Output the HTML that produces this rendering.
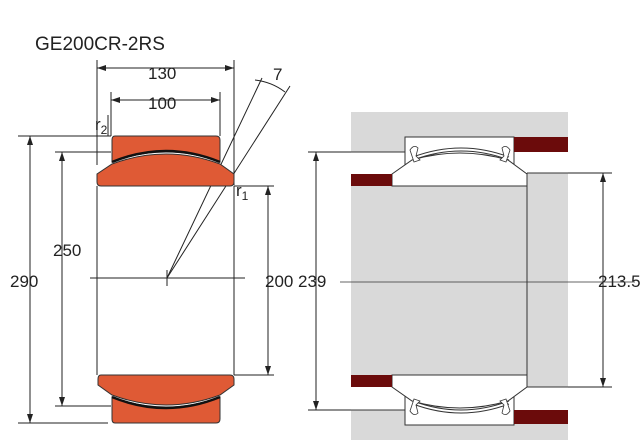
<!DOCTYPE html>
<html><head><style>body{margin:0;background:#fff}svg{display:block}</style></head><body>
<svg width="640" height="440" xmlns="http://www.w3.org/2000/svg" font-family="Liberation Sans, sans-serif">
<rect width="640" height="440" fill="#fff"/>
<text x="35" y="50" font-size="19" fill="#222">GE200CR-2RS</text>
<g stroke="#222" stroke-width="1" fill="none">
<line x1="97" y1="60" x2="97" y2="165"/><line x1="234" y1="60" x2="234" y2="185"/>
<line x1="111" y1="92" x2="111" y2="136"/><line x1="220" y1="92" x2="220" y2="136"/>
<line x1="97" y1="68" x2="234" y2="68"/><line x1="111" y1="100" x2="220" y2="100"/>
<line x1="97" y1="186" x2="97" y2="375"/><line x1="234" y1="186" x2="234" y2="375"/>
<line x1="18" y1="136" x2="111" y2="136"/><line x1="18" y1="423" x2="108" y2="423"/>
<line x1="30" y1="136" x2="30" y2="423"/>
<line x1="55" y1="152" x2="111" y2="152"/><line x1="55" y1="406" x2="111" y2="406"/>
<line x1="62" y1="152" x2="62" y2="406"/>
<line x1="234" y1="186" x2="274" y2="186"/><line x1="234" y1="375" x2="274" y2="375"/>
<line x1="268" y1="186" x2="268" y2="375"/>
<line x1="90" y1="278" x2="245" y2="278"/><line x1="167" y1="270" x2="167" y2="286"/>
<line x1="167" y1="278" x2="262" y2="78"/><line x1="167" y1="278" x2="290" y2="86"/>
<path d="M255 80 Q272 82 285 92"/>
<line x1="108" y1="115" x2="108" y2="136"/>
<line x1="308" y1="152" x2="351" y2="152"/><line x1="308" y1="410" x2="351" y2="410"/>
<line x1="316" y1="152" x2="316" y2="410"/>
<line x1="568" y1="173" x2="612" y2="173"/><line x1="568" y1="387" x2="612" y2="387"/>
<line x1="603" y1="173" x2="603" y2="387"/>
</g>
<g fill="#222">
<path d="M97 68l9-3v6z"/><path d="M234 68l-9-3v6z"/>
<path d="M111 100l9-3v6z"/><path d="M220 100l-9-3v6z"/>
<path d="M30 136l-3 9h6z"/><path d="M30 423l-3-9h6z"/>
<path d="M62 152l-3 9h6z"/><path d="M62 406l-3-9h6z"/>
<path d="M268 186l-3 9h6z"/><path d="M268 375l-3-9h6z"/>
<path d="M316 152l-3 9h6z"/><path d="M316 410l-3-9h6z"/>
<path d="M603 173l-3 9h6z"/><path d="M603 387l-3-9h6z"/>
</g>
<g fill="#df5a35" stroke="#333" stroke-width="1">
<path d="M115 136h101q4 0 4 4v22q-54-20-108 0v-22q0-4 3-4z"/>
<path d="M112 164q54-20 108 0l14 10v8q0 4-4 4h-129q-4 0-4-4v-8z"/>
<path d="M101 375h129q4 0 4 4v6l-14 10q-54 20-108 0l-14-10v-6q0-4 3-4z"/>
<path d="M112 397q54 20 108 0v22q0 4-4 4h-101q-3 0-3-4z"/>
</g>
<path d="M112 162q54-22 108 0" stroke="#111" stroke-width="2.5" fill="none"/>
<path d="M112 397q54 22 108 0" stroke="#111" stroke-width="2.5" fill="none"/>
<g font-size="17" fill="#222">
<text x="148" y="79">130</text><text x="148" y="109">100</text>
<text x="273" y="80">7</text>
<text x="95" y="130">r<tspan font-size="12" dy="4">2</tspan></text>
<text x="236" y="196">r<tspan font-size="12" dy="4">1</tspan></text>
<text x="53" y="256">250</text><text x="10" y="287">290</text>
<text x="265" y="287">200</text><text x="298" y="287">239</text>
<text x="598" y="287">213.5</text>
</g>
<rect x="351" y="112" width="217" height="328" fill="#d9d9d9"/>
<g stroke="#333" stroke-width="1">
<rect x="351" y="152" width="176" height="22" fill="#fff" stroke="none"/>
<rect x="527" y="152" width="41" height="21" fill="#fff" stroke="none"/>
<rect x="351" y="387" width="176" height="23" fill="#fff" stroke="none"/>
<rect x="527" y="387" width="41" height="23" fill="#fff" stroke="none"/>
<path d="M405 170V137h109v33" fill="#fff"/>
<path d="M392 174l20-14q48-14 96 0l19 14v12h-135z" fill="#fff"/>
<path d="M405 392V425h109v-33" fill="#fff"/>
<path d="M392 375h135v12l-19 14q-48 14-96 0l-20-14z" fill="#fff"/>
<path d="M413 160q48-18 96 0M413 157q48-18 96 0" fill="none"/>
<path d="M413 401q48 18 96 0M413 404q48 18 96 0" fill="none"/>
<line x1="527" y1="173" x2="527" y2="387"/><line x1="527" y1="173" x2="568" y2="173"/><line x1="527" y1="387" x2="568" y2="387"/>
<line x1="351" y1="152" x2="405" y2="152"/><line x1="351" y1="410" x2="405" y2="410"/>
<line x1="340" y1="282" x2="635" y2="282" stroke-width="0.8"/>
</g>
<g fill="#6b0b0b">
<rect x="514" y="137" width="54" height="15"/><rect x="351" y="174" width="41" height="12"/>
<rect x="351" y="375" width="41" height="12"/><rect x="514" y="410" width="54" height="14"/>
</g>
<g fill="#fff" stroke="#333" stroke-width="0.8">
<path d="M410 150q4-6 8-2l-2 8 4 4-6 2z"/><path d="M510 150q-4-6-8-2l2 8-4 4 6 2z"/>
<path d="M410 411q4 6 8 2l-2-8 4-4-6-2z"/><path d="M510 411q-4 6-8 2l2-8-4-4 6-2z"/>
</g>
</svg>
</body></html>
